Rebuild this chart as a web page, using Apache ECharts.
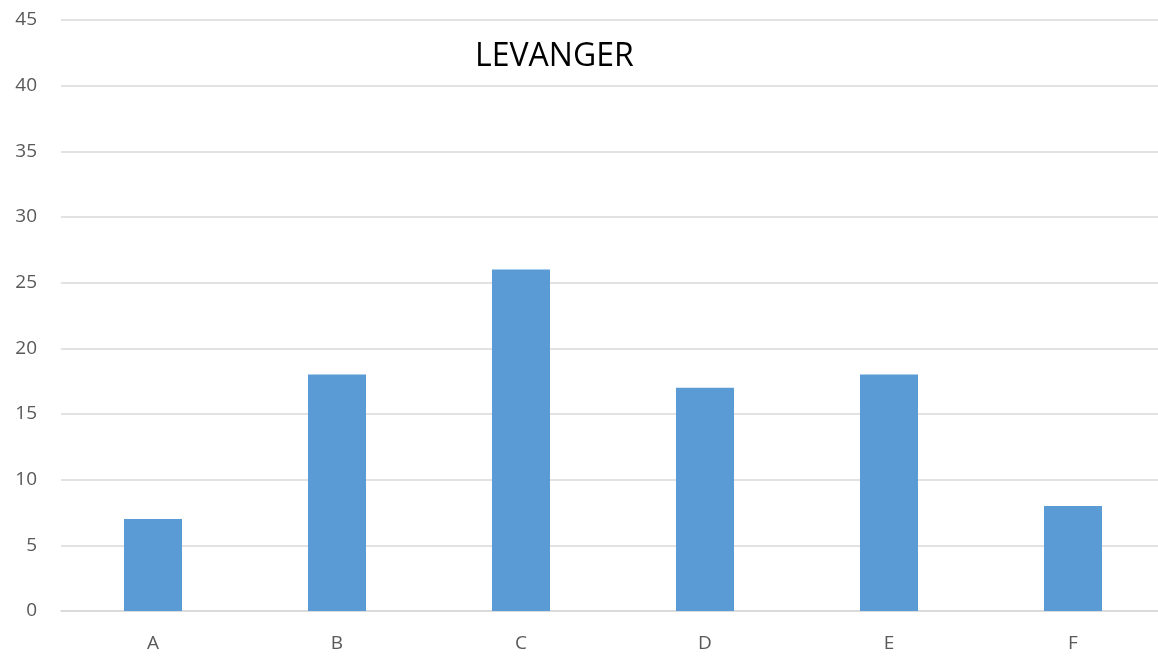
<!DOCTYPE html>
<html>
<head>
<meta charset="utf-8">
<script src="https://cdn.jsdelivr.net/npm/echarts@6/dist/echarts.min.js"></script>
<style>html,body{margin:0;padding:0;background:#fff;}#c{width:1158px;height:656px;}</style>
</head>
<body>
<div id="c"></div>
<script>
const categories = ['A', 'B', 'C', 'D', 'E', 'F'];
const values = [7, 18, 26, 17, 18, 8];
const titleText = 'LEVANGER';

const chart = echarts.init(document.getElementById('c'), null, {renderer: 'canvas'});
chart.setOption({
  animation: false,
  backgroundColor: '#ffffff',
  title: {
    text: titleText,
    left: 470,
    top: 36,
    textStyle: {fontFamily: 'Open Sans', fontSize: 32, fontWeight: 'normal', color: '#000000'}
  },
  grid: {left: 61, top: 20, bottom: 45, right: -7, containLabel: false, outerBoundsMode: 'none'},
  xAxis: {
    type: 'category',
    data: categories,
    axisLine: {lineStyle: {color: '#d9d9d9', width: 1.5}},
    axisTick: {show: false},
    axisLabel: {color: '#595959', fontFamily: 'Open Sans', fontSize: 19, margin: 23}
  },
  yAxis: {
    type: 'value',
    min: 0, max: 45, interval: 5,
    axisLine: {show: false},
    axisTick: {show: false},
    axisLabel: {color: '#595959', fontFamily: 'Open Sans', fontSize: 19, margin: 24},
    splitLine: {lineStyle: {color: '#d9d9d9', width: 1.5}}
  },
  series: [{
    type: 'bar',
    data: values,
    barWidth: 58,
    itemStyle: {color: '#5b9bd5'}
  }]
});
</script>
</body>
</html>
